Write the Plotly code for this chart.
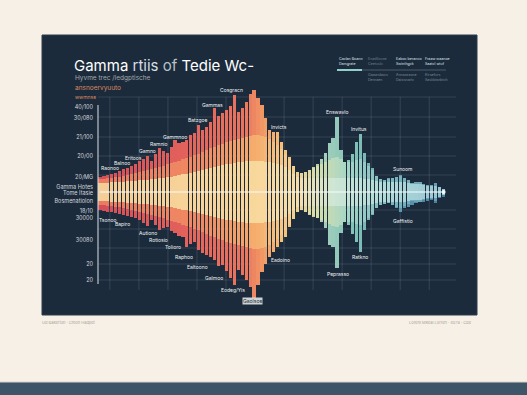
import plotly.graph_objects as go
from plotly.colors import sample_colorscale

# ---------------- data ----------------
up = [15,16,17,18,19,21,23,24,26,28, 31,33,36,31,38,44,41,39,45,52,
      49,50,52,57,59,67,62,65,70,84, 76,79,82,86,97,80,84,90,98,112,
      94,87,74,62,60,60,50,42,35,26, 20,19,20,22,25,28,33,39,49,54,
      75,42,30,32,38,50,58,39,29,24, 16,13,12,14,14,15,17,14,12,9,
      10,10,8,7,7,9,5,3]
dn = [18,19,20,20,21,22,23,24,25,26, 28,31,34,28,33,38,36,35,39,41,
      44,45,55,52,50,58,61,63,65,68, 74,73,79,86,93,78,83,88,95,106,
      93,80,72,65,60,55,50,45,35,27, 20,18,20,23,25,26,30,36,53,55,
      76,41,30,33,42,50,60,38,28,23, 16,13,12,11,13,16,20,16,15,13,
      11,10,10,9,8,11,6,5]
mid = [13,13,14,14,15,15,16,17,18,19, 20,21,22,23,24,25,26,28,29,30,
       31,33,34,35,37,38,40,42,44,45, 47,48,50,51,52,53,54,55,56,57,
       57,56,55,53,50,47,43,38,33,28, 22,20,20,22,24,26,28,30,32,34,
       35,33,30,30,30,32,33,30,26,22, 16,13,12,13,14,15,16,14,12,9,
       10,10,8,7,7,9,5,3]
core = [9,9,9,10,10,10,10,11,11,11, 12,12,12,13,13,14,14,15,15,16,
        17,18,18,19,20,21,22,23,24,25, 26,27,28,28,29,30,30,31,31,31,
        31,31,30,30,29,28,27,25,22,18, 15,14,14,14,14,14,14,14,14,14,
        14,14,14,14,14,14,14,13,13,12, 11,10,10,10,10,10,10,10,9,8,
        8,8,7,6,6,6,5,3]
idx = list(range(len(up)))

ytick_vals = [85, 74, 55, 36, 15, 5, -1, -9, -19, -26, -48, -72, -88]
ytick_text = ["40/100", "30/080", "21/100", "20/00", "20/MG", "Gamma Hotes", "Tome Itasie",
              "Bosmenatiolon", "18/10", "30000", "30080", "20", "20"]

lab_top_text = ["Gammo", "Cosgracn", "Gammas", "Batzgoe", "Invicts", "Gammnoo", "Ramnio",
                "Gamno", "Eritoos", "Balnoo", "Raonoo", "Enswavlo", "Invitus", "Sunoom"]
lab_top_x = [38.7, 33.4, 28.6, 24.6, 45.3, 19.0, 14.9, 11.9, 8.6, 5.6, 2.5, 60.0, 65.6, 76.7]
lab_top_y = [117, 102, 87, 72, 65, 55, 48, 41, 34, 29, 24, 80, 63, 23]
lab_bot_text = ["Tsonoo", "Bapiro", "Autiono", "Rotiosio", "Tolioro", "Raphoo", "Ealtoono",
                "Galmoo", "Eodeg/Yis", "Gaolsoe", "Eadoino", "Gaffistio", "Ratkno", "Peprasso"]
lab_bot_x = [2.0, 5.8, 12.2, 14.9, 18.5, 21.3, 24.6, 28.9, 33.7, 38.5, 45.6, 76.7, 65.8, 60.3]
lab_bot_y = [-28, -32, -41, -48, -55, -65, -75, -86, -98, -109, -68, -29, -65, -82]

legend_row1 = ["Caclan Boann<br>Damgrate", "Enadllocoe<br>Ceetuslc",
               "Eaboc beranco<br>Swinthgck", "Fraaw waanoe<br>Saatcl wtuf"]
legend_row2 = ["", "Gaowsbocs<br>Denraen", "Annoorasne<br>Daiosnaric", "Kirsefurs<br>Saskbtorbtch"]

# ---------------- style ----------------
W, H = 527, 395
def fx(p): return p / W
def fy(p): return 1 - p / H

BG = "#f7f0e6"
PANEL = "#1c2b3b"

outer_cs = [[0, "rgb(212,78,88)"], [0.25, "rgb(226,98,92)"], [0.42, "rgb(234,116,94)"],
            [0.47, "rgb(240,150,100)"], [0.53, "rgb(245,192,120)"], [0.6, "rgb(222,210,150)"],
            [0.66, "rgb(158,206,186)"], [0.75, "rgb(126,192,182)"], [0.85, "rgb(96,158,178)"],
            [1, "rgb(70,124,160)"]]
mid_cs = [[0, "rgb(236,122,96)"], [0.3, "rgb(240,138,100)"], [0.45, "rgb(245,172,108)"],
          [0.55, "rgb(247,205,140)"], [0.63, "rgb(215,222,170)"], [0.72, "rgb(165,214,198)"],
          [0.85, "rgb(122,182,190)"], [1, "rgb(100,150,178)"]]
core_cs = [[0, "rgb(245,205,150)"], [0.45, "rgb(248,215,155)"], [0.58, "rgb(245,222,170)"],
           [0.68, "rgb(205,230,212)"], [0.85, "rgb(172,216,216)"], [1, "rgb(150,196,210)"]]

n = len(idx)
pos = [i / (n - 1) for i in idx]
c_outer = sample_colorscale(outer_cs, pos)
c_mid = sample_colorscale(mid_cs, pos)
c_core = sample_colorscale(core_cs, pos)

fig = go.Figure()

def add_layer(hu, hd, colors):
    fig.add_trace(go.Bar(x=idx, y=[a + b for a, b in zip(hu, hd)], base=[-b for b in hd],
                         width=0.8, marker=dict(color=colors, line=dict(width=0)),
                         hoverinfo="skip", showlegend=False))

add_layer(up, dn, c_outer)
add_layer([min(m, u) for m, u in zip(mid, up)], [min(m, d) for m, d in zip(mid, dn)], c_mid)
add_layer([min(m, u) for m, u in zip(core, up)], [min(m, d) for m, d in zip(core, dn)], c_core)

fig.add_trace(go.Scatter(x=[idx[0], idx[-1]], y=[0, 0], mode="lines",
                         line=dict(color="rgba(245,250,252,0.7)", width=1.3),
                         hoverinfo="skip", showlegend=False))
fig.add_trace(go.Scatter(x=[idx[-1]], y=[0], mode="markers",
                         marker=dict(color="rgba(245,250,252,0.95)", size=4),
                         hoverinfo="skip", showlegend=False))

shapes = []
shapes.append(dict(type="rect", xref="paper", yref="paper", x0=fx(42), x1=fx(477), y0=fy(315), y1=fy(35),
                   fillcolor=PANEL, line=dict(color="#2c3d4e", width=1), layer="below"))
shapes.append(dict(type="rect", xref="paper", yref="paper", x0=0, x1=1, y0=0, y1=fy(382),
                   fillcolor="#3e5568", line=dict(width=0), layer="below"))
shapes.append(dict(type="line", xref="paper", yref="paper", x0=0, x1=1, y0=fy(382), y1=fy(382),
                   line=dict(color="#d8d2c8", width=1), layer="below"))
GRID = "rgba(150,172,195,0.20)"
for g in [95, 75, 55, 36, 17, -18, -37, -56, -72, -88]:
    shapes.append(dict(type="line", xref="paper", yref="y", x0=fx(98), x1=fx(456), y0=g, y1=g,
                       line=dict(color=GRID, width=1), layer="below"))
gx = 2.5
while gx < 90:
    shapes.append(dict(type="line", xref="x", yref="paper", x0=gx, x1=gx, y0=fy(290), y1=fy(97),
                       line=dict(color=GRID, width=1), layer="below"))
    gx += 7.35
shapes.append(dict(type="line", xref="paper", yref="paper", x0=fx(98), x1=fx(98), y0=fy(284), y1=fy(105),
                   line=dict(color="rgba(215,222,230,0.85)", width=1.2)))
shapes.append(dict(type="line", xref="paper", yref="paper", x0=fx(362), x1=fx(446), y0=fy(70), y1=fy(70),
                   line=dict(color="rgba(120,140,160,0.5)", width=1)))
shapes.append(dict(type="line", xref="paper", yref="paper", x0=fx(337), x1=fx(362), y0=fy(70), y1=fy(70),
                   line=dict(color="#8fd0c8", width=2)))

ann = []
FONT = "Inter, Liberation Sans, sans-serif"
ann.append(dict(xref="paper", yref="paper", x=fx(72), y=fy(65), xanchor="left", yanchor="middle",
                text="Gamma <span style='color:#d8dee4'>rtiis</span> <span style='color:#b7c0c8'>of</span> Tedie Wc-",
                showarrow=False, font=dict(family=FONT, size=15, color="#ffffff")))
ann.append(dict(xref="paper", yref="paper", x=fx(73), y=fy(78), xanchor="left", yanchor="middle",
                text="Hyvme trec /ledgptische", showarrow=False,
                font=dict(family=FONT, size=6.5, color="#a3a9ae")))
ann.append(dict(xref="paper", yref="paper", x=fx(73), y=fy(88), xanchor="left", yanchor="middle",
                text="ansnoervyuuto", showarrow=False, font=dict(family=FONT, size=6.5, color="#d98a62")))
ann.append(dict(xref="paper", yref="paper", x=fx(73), y=fy(97), xanchor="left", yanchor="middle",
                text="wwmnse", showarrow=False, font=dict(family=FONT, size=5, color="#d98a62")))
leg_x = [337, 366, 394, 423]
for k, t in enumerate(legend_row1):
    ann.append(dict(xref="paper", yref="paper", x=fx(leg_x[k]), y=fy(62), xanchor="left", yanchor="middle",
                    text=t, showarrow=False, align="left",
                    font=dict(family=FONT, size=3.6, color="#dfe6ec" if k != 1 else "#6f7f8e")))
for k, t in enumerate(legend_row2):
    if t:
        ann.append(dict(xref="paper", yref="paper", x=fx(leg_x[k]), y=fy(78), xanchor="left", yanchor="middle",
                        text=t, showarrow=False, align="left",
                        font=dict(family=FONT, size=3.6, color="#7b8b9a")))
for t, x, y in zip(lab_top_text + lab_bot_text, lab_top_x + lab_bot_x, lab_top_y + lab_bot_y):
    boxed = (t == "Gaolsoe")
    ann.append(dict(xref="x", yref="y", x=x, y=y, text=t, showarrow=False,
                    font=dict(family=FONT, size=5, color="#1c2b3b" if boxed else "#eef2f5"),
                    bgcolor="rgba(225,228,230,0.9)" if boxed else None, borderpad=0))
ann.append(dict(xref="paper", yref="paper", x=fx(40), y=fy(322), xanchor="left", yanchor="middle",
                text="Ud Bakerton · Cmon Hadpet", showarrow=False,
                font=dict(family=FONT, size=4, color="#a9a39a")))
ann.append(dict(xref="paper", yref="paper", x=fx(474), y=fy(322), xanchor="right", yanchor="middle",
                text="Lorem Mkeal Lorren · 4078 · Cbe", showarrow=False,
                font=dict(family=FONT, size=4, color="#a9a39a")))

fig.update_layout(
    width=W, height=H, autosize=False,
    margin=dict(l=0, r=0, t=0, b=0),
    paper_bgcolor=BG, plot_bgcolor="rgba(0,0,0,0)",
    barmode="overlay", bargap=0,
    showlegend=False,
    shapes=shapes, annotations=ann,
    xaxis=dict(domain=[fx(98), fx(456)], range=[(98 - 100) / 3.95, (456 - 100) / 3.95],
               showgrid=False, zeroline=False, showticklabels=False, ticks=""),
    yaxis=dict(domain=[fy(305), fy(90)], range=[192 - 305, 192 - 90],
               tickvals=ytick_vals, ticktext=ytick_text, showgrid=False, zeroline=False,
               ticks="", tickfont=dict(family=FONT, size=5.5, color="#d3d8dd"), ticklabelstandoff=4),
)

fig.write_html("out.html", config={"displayModeBar": False},
               post_script="document.body.style.margin='0';")
